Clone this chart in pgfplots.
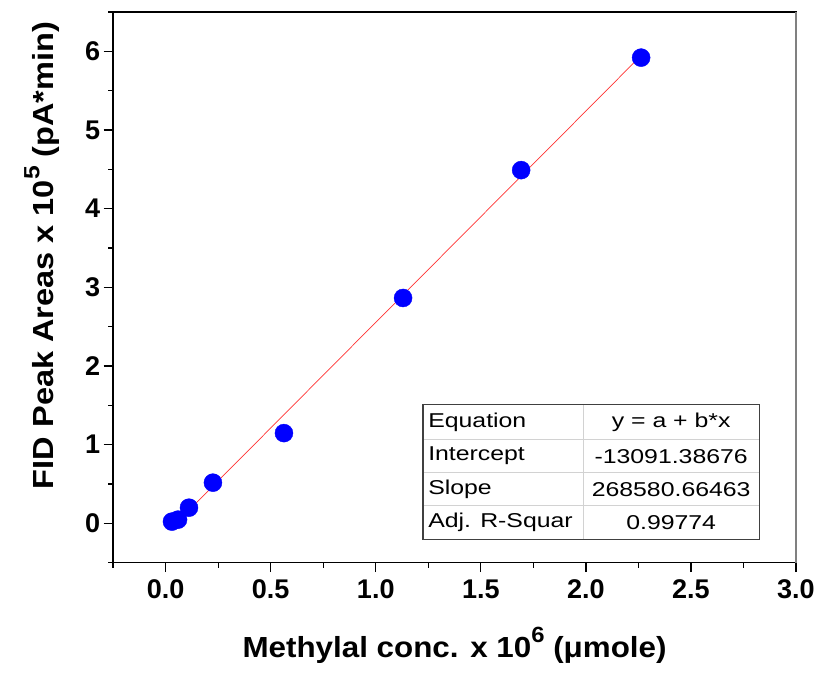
\documentclass[border=0pt]{standalone}
\usepackage{fontspec}
\setmainfont{Liberation Sans}
\usepackage{pgfplots}
\pgfplotsset{compat=1.18}
\newcommand{\sups}[1]{\raisebox{0.5em}{\fontsize{22bp}{22bp}\selectfont #1}}
\newcommand{\tab}[1]{\scalebox{1.24}[1]{#1}}
\begin{document}
\begin{tikzpicture}
\begin{axis}[
    scale only axis,
    width=682bp,
    height=550bp,
    xmin=-0.25, xmax=3.0,
    ymin=-0.5, ymax=6.5,
    xtick={0,0.5,...,3.0},
    minor xtick={-0.25,0.25,...,2.75},
    ytick={0,1,...,6},
    minor ytick={-0.5,0.5,...,6.5},
    xtick pos=bottom, ytick pos=left,
    tick align=outside,
    major tick length=9.5bp,
    minor tick length=5bp,
    every tick/.style={black, line width=1.3bp},
    axis line style={line width=1.3bp},
    xticklabel style={/pgf/number format/fixed, /pgf/number format/fixed zerofill, /pgf/number format/precision=1, yshift=-4bp},
    /pgf/number format/assume math mode=true,
    ticklabel style={font=\bfseries\fontsize{27bp}{30bp}\selectfont},
    xlabel={\scalebox{1.08}[1]{Methylal conc. x 10\sups{6} (μmole)}},
    ylabel={\scalebox{1.12}[1]{FID Peak Areas x 10\sups{5} (pA*min)}},
    label style={font=\bfseries\fontsize{29bp}{33bp}\selectfont},
    xlabel style={at={(axis description cs:0.5,-0.150)}, anchor=center},
    ylabel style={at={(axis description cs:-0.104,0.558)}, anchor=center},
    clip=false,
]
% linear fit
\addplot[red, opacity=0.8, line width=0.7bp] coordinates {
(0.029,-0.0530)
(2.263,5.9472)
};
% measured points
\addplot[only marks, mark=*, mark size=9bp, blue, mark options={fill=blue, draw=blue}] coordinates {
(0.030,0.022)
(0.059,0.047)
(0.111,0.199)
(0.225,0.517)
(0.563,1.147)
(1.130,2.865)
(1.692,4.49)
(2.263,5.92)
};
% fit results table
\fill[white] (axis cs:1.225,-0.203) rectangle (axis cs:2.825,1.510);
\draw[gray!35, line width=0.9bp] (axis cs:1.225,1.066) -- (axis cs:2.825,1.066);
\draw[gray!35, line width=0.9bp] (axis cs:1.225,0.643) -- (axis cs:2.825,0.643);
\draw[gray!35, line width=0.9bp] (axis cs:1.225,0.225) -- (axis cs:2.825,0.225);
\draw[gray!35, line width=0.9bp] (axis cs:1.987,-0.203) -- (axis cs:1.987,1.510);
\draw[black!75, line width=1.1bp] (axis cs:1.225,-0.203) rectangle (axis cs:2.825,1.510);
\begin{scope}[every node/.style={font=\fontsize{20bp}{24bp}\selectfont, inner sep=0pt}]
\node[anchor=west] at (axis cs:1.249,1.288) {\tab{Equation}};
\node[anchor=west] at (axis cs:1.249,0.854) {\tab{Intercept}};
\node[anchor=west] at (axis cs:1.249,0.434) {\tab{Slope}};
\node[anchor=west] at (axis cs:1.249,0.009) {\tab{Adj. R-Squar}};
\node at (axis cs:2.406,1.288) {\tab{y = a + b*x}};
\node at (axis cs:2.406,0.854) {\tab{-13091.38676}};
\node at (axis cs:2.406,0.434) {\tab{268580.66463}};
\node at (axis cs:2.406,0.009) {\tab{0.99774}};
\end{scope}
% grey right spine
\draw[gray, line width=1.3bp] (rel axis cs:1,0) -- (rel axis cs:1,1);
% page margins as in the reference
\path (rel axis cs:1,1) ++(26bp,12bp);
\path (rel axis cs:0,0) ++(-113bp,-110bp);
\end{axis}
\end{tikzpicture}
\end{document}
